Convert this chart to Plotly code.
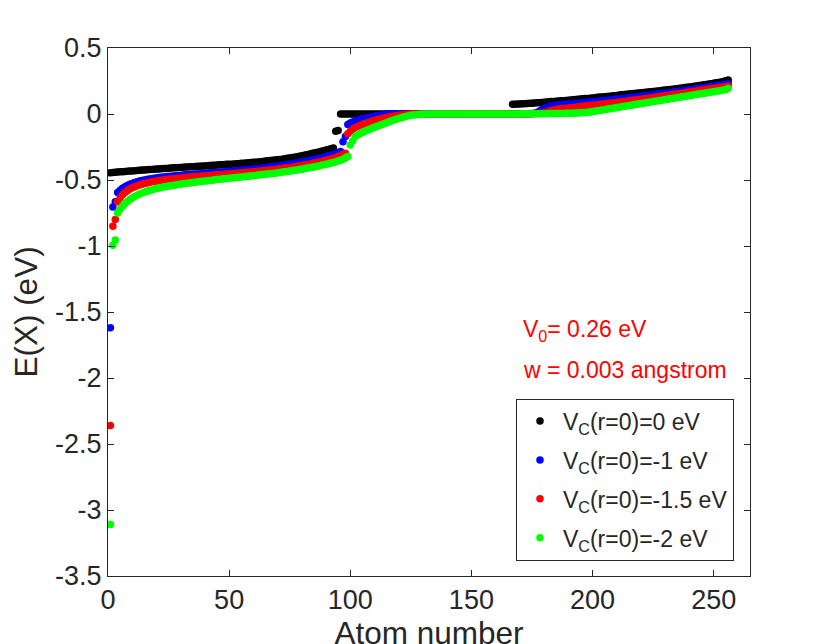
import plotly.graph_objects as go

# atom index on the x axis
atoms = list(range(1, 257))

# V_C(r=0) = 0 eV
black_low = [
    -0.445, -0.443, -0.441, -0.440, -0.438, -0.437, -0.435, -0.434, -0.432, -0.431,
    -0.430, -0.428, -0.427, -0.425, -0.424, -0.423, -0.421, -0.420, -0.419, -0.417,
    -0.416, -0.415, -0.413, -0.412, -0.411, -0.410, -0.408, -0.407, -0.406, -0.405,
    -0.404, -0.402, -0.401, -0.400, -0.399, -0.398, -0.396, -0.395, -0.394, -0.393,
    -0.392, -0.390, -0.389, -0.388, -0.387, -0.385, -0.384, -0.383, -0.381, -0.380,
    -0.380, -0.379, -0.377, -0.376, -0.374, -0.373, -0.371, -0.370, -0.368, -0.366,
    -0.365, -0.363, -0.361, -0.359, -0.357, -0.355, -0.353, -0.351, -0.349, -0.347,
    -0.344, -0.342, -0.339, -0.336, -0.333, -0.330, -0.327, -0.324, -0.320, -0.316,
    -0.312, -0.308, -0.304, -0.300, -0.296, -0.292, -0.288, -0.283, -0.278, -0.273,
    -0.268, -0.263, -0.258]
black_step = [-0.130, -0.125]
black_flat = [
    0, 0, 0, 0, 0, 0, 0, 0, 0, 0, 0, 0, 0, 0, 0, 0, 0, 0, 0, 0,
    0, 0, 0, 0, 0, 0, 0, 0, 0, 0, 0, 0, 0, 0, 0, 0, 0, 0, 0, 0,
    0, 0, 0, 0, 0, 0, 0, 0, 0, 0, 0, 0, 0, 0, 0, 0, 0, 0, 0, 0,
    0, 0, 0, 0, 0, 0, 0, 0, 0, 0, 0]
black_high = [
    0.073, 0.074, 0.075, 0.076, 0.077, 0.078, 0.079, 0.081, 0.082, 0.083,
    0.085, 0.086, 0.088, 0.089, 0.091, 0.092, 0.094, 0.095, 0.097, 0.098,
    0.100, 0.101, 0.103, 0.105, 0.106, 0.108, 0.110, 0.111, 0.113, 0.115,
    0.117, 0.118, 0.120, 0.122, 0.124, 0.126, 0.128, 0.129, 0.131, 0.133,
    0.135, 0.137, 0.139, 0.141, 0.143, 0.145, 0.147, 0.149, 0.151, 0.153,
    0.155, 0.157, 0.159, 0.161, 0.163, 0.165, 0.167, 0.169, 0.171, 0.173,
    0.175, 0.177, 0.179, 0.182, 0.184, 0.186, 0.188, 0.190, 0.192, 0.195,
    0.197, 0.200, 0.202, 0.205, 0.207, 0.210, 0.213, 0.215, 0.218, 0.221,
    0.224, 0.227, 0.230, 0.233, 0.236, 0.239, 0.243, 0.247, 0.251, 0.258]

# V_C(r=0) = -1 eV
blue_deep = [-1.620, -0.705, -0.665]
blue_low = [
    -0.595, -0.578, -0.563, -0.551, -0.541, -0.533, -0.526, -0.519, -0.513, -0.508,
    -0.504, -0.500, -0.496, -0.493, -0.490, -0.487, -0.485, -0.482, -0.480, -0.478,
    -0.476, -0.474, -0.472, -0.470, -0.468, -0.466, -0.465, -0.463, -0.461, -0.460,
    -0.458, -0.457, -0.455, -0.454, -0.452, -0.451, -0.449, -0.448, -0.446, -0.445,
    -0.443, -0.442, -0.440, -0.439, -0.437, -0.436, -0.434, -0.433, -0.431, -0.430,
    -0.428, -0.426, -0.425, -0.423, -0.421, -0.419, -0.417, -0.415, -0.413, -0.411,
    -0.409, -0.407, -0.405, -0.402, -0.400, -0.397, -0.395, -0.392, -0.389, -0.386,
    -0.383, -0.380, -0.377, -0.374, -0.371, -0.368, -0.364, -0.361, -0.357, -0.353,
    -0.349, -0.345, -0.341, -0.337, -0.332, -0.327, -0.322, -0.317, -0.311, -0.305,
    -0.299, -0.292, -0.284]
blue_step = [-0.210, -0.170]
blue_rise = [
    -0.080, -0.068, -0.060, -0.053, -0.047, -0.041, -0.036, -0.032,
    -0.028, -0.024, -0.020, -0.017, -0.014, -0.011, -0.008, -0.006]
blue_flat = [
    0, 0, 0, 0, 0, 0, 0, 0, 0, 0, 0, 0, 0, 0, 0, 0, 0, 0, 0, 0,
    0, 0, 0, 0, 0, 0, 0, 0, 0, 0, 0, 0, 0, 0, 0, 0, 0, 0, 0, 0,
    0, 0, 0, 0, 0, 0, 0, 0, 0, 0, 0, 0]
blue_high = [
    0.000, 0.000, 0.001, 0.001, 0.001, 0.002, 0.002, 0.003, 0.004, 0.006,
    0.010, 0.020, 0.032, 0.042, 0.050, 0.056, 0.060, 0.063, 0.066, 0.068,
    0.070, 0.071, 0.073, 0.075, 0.076, 0.078, 0.080, 0.081, 0.083, 0.085,
    0.087, 0.089, 0.091, 0.093, 0.095, 0.097, 0.099, 0.101, 0.103, 0.105,
    0.107, 0.109, 0.111, 0.113, 0.115, 0.117, 0.119, 0.121, 0.123, 0.125,
    0.127, 0.130, 0.132, 0.134, 0.137, 0.139, 0.141, 0.144, 0.146, 0.148,
    0.151, 0.153, 0.156, 0.158, 0.161, 0.163, 0.166, 0.168, 0.171, 0.173,
    0.176, 0.179, 0.181, 0.184, 0.187, 0.190, 0.193, 0.195, 0.198, 0.201,
    0.203, 0.206, 0.209, 0.212, 0.215, 0.218, 0.221, 0.224, 0.228, 0.233]

# V_C(r=0) = -1.5 eV
red_deep = [-2.360, -0.850, -0.800]
red_low = [
    -0.665, -0.635, -0.612, -0.595, -0.581, -0.569, -0.559, -0.551, -0.544, -0.538,
    -0.532, -0.527, -0.522, -0.518, -0.514, -0.511, -0.508, -0.505, -0.502, -0.499,
    -0.497, -0.495, -0.493, -0.491, -0.489, -0.487, -0.485, -0.483, -0.481, -0.480,
    -0.478, -0.476, -0.475, -0.473, -0.472, -0.470, -0.469, -0.467, -0.466, -0.464,
    -0.463, -0.461, -0.460, -0.458, -0.457, -0.455, -0.454, -0.452, -0.451, -0.449,
    -0.448, -0.446, -0.444, -0.443, -0.441, -0.439, -0.437, -0.436, -0.434, -0.432,
    -0.430, -0.428, -0.426, -0.424, -0.422, -0.420, -0.417, -0.415, -0.413, -0.410,
    -0.407, -0.405, -0.402, -0.399, -0.396, -0.393, -0.390, -0.387, -0.383, -0.380,
    -0.376, -0.372, -0.368, -0.364, -0.360, -0.355, -0.351, -0.346, -0.341, -0.335,
    -0.329, -0.322, -0.315, -0.307, -0.297]
red_rise = [
    -0.150, -0.130, -0.115, -0.103, -0.094, -0.086, -0.079, -0.072, -0.066, -0.060,
    -0.054, -0.049, -0.044, -0.039, -0.034, -0.030, -0.026, -0.022, -0.019, -0.016,
    -0.013, -0.010, -0.008, -0.006, -0.004]
red_flat = [
    0, 0, 0, 0, 0, 0, 0, 0, 0, 0, 0, 0, 0, 0, 0, 0, 0, 0, 0, 0,
    0, 0, 0, 0, 0, 0, 0, 0, 0, 0, 0, 0, 0, 0, 0, 0, 0, 0, 0, 0,
    0, 0, 0]
red_high = [
    0.000, 0.000, 0.000, 0.001, 0.001, 0.001, 0.001, 0.002, 0.002, 0.003,
    0.004, 0.005, 0.007, 0.010, 0.015, 0.021, 0.027, 0.031, 0.034, 0.037,
    0.040, 0.042, 0.044, 0.046, 0.048, 0.050, 0.052, 0.054, 0.056, 0.058,
    0.060, 0.062, 0.064, 0.066, 0.068, 0.070, 0.072, 0.075, 0.077, 0.079,
    0.081, 0.083, 0.086, 0.088, 0.090, 0.093, 0.095, 0.097, 0.100, 0.102,
    0.105, 0.107, 0.110, 0.112, 0.115, 0.117, 0.120, 0.122, 0.125, 0.128,
    0.130, 0.133, 0.136, 0.138, 0.141, 0.144, 0.147, 0.150, 0.153, 0.156,
    0.158, 0.161, 0.164, 0.167, 0.170, 0.172, 0.175, 0.178, 0.181, 0.184,
    0.187, 0.189, 0.192, 0.195, 0.197, 0.200, 0.202, 0.205, 0.208, 0.213]

# V_C(r=0) = -2 eV
green_deep = [-3.110, -0.995, -0.955]
green_low = [
    -0.750, -0.722, -0.698, -0.678, -0.662, -0.648, -0.636, -0.625, -0.615, -0.607,
    -0.599, -0.592, -0.586, -0.580, -0.575, -0.570, -0.565, -0.561, -0.557, -0.553,
    -0.550, -0.546, -0.543, -0.540, -0.537, -0.534, -0.531, -0.529, -0.526, -0.524,
    -0.521, -0.519, -0.517, -0.514, -0.512, -0.510, -0.508, -0.506, -0.503, -0.501,
    -0.499, -0.497, -0.495, -0.493, -0.491, -0.489, -0.487, -0.485, -0.483, -0.481,
    -0.479, -0.477, -0.475, -0.473, -0.471, -0.469, -0.467, -0.465, -0.463, -0.461,
    -0.459, -0.457, -0.455, -0.452, -0.450, -0.448, -0.445, -0.443, -0.440, -0.438,
    -0.435, -0.432, -0.429, -0.427, -0.424, -0.421, -0.418, -0.414, -0.411, -0.408,
    -0.404, -0.401, -0.397, -0.393, -0.389, -0.385, -0.381, -0.376, -0.372, -0.367,
    -0.362, -0.356, -0.350, -0.343, -0.334, -0.322]
green_rise = [
    -0.235, -0.205, -0.170, -0.160, -0.150, -0.140, -0.131, -0.123, -0.115, -0.108,
    -0.101, -0.094, -0.087, -0.080, -0.073, -0.066, -0.059, -0.052, -0.046, -0.040,
    -0.034, -0.028, -0.023, -0.018, -0.014, -0.010, -0.007, -0.005, -0.003, -0.002,
    -0.001]
green_flat = [
    0, 0, 0, 0, 0, 0, 0, 0, 0, 0, 0, 0, 0, 0, 0, 0, 0, 0,
    0, 0, 0, 0, 0, 0, 0, 0, 0, 0, 0, 0, 0, 0, 0, 0, 0, 0]
green_high = [
    0.000, 0.000, 0.000, 0.000, 0.001, 0.001, 0.001, 0.001, 0.001, 0.001,
    0.002, 0.002, 0.002, 0.002, 0.002, 0.003, 0.003, 0.003, 0.003, 0.004,
    0.004, 0.004, 0.005, 0.005, 0.006, 0.006, 0.007, 0.008, 0.009, 0.010,
    0.012, 0.014, 0.016, 0.018, 0.021, 0.024, 0.027, 0.030, 0.033, 0.036,
    0.039, 0.042, 0.046, 0.049, 0.052, 0.055, 0.058, 0.061, 0.064, 0.067,
    0.070, 0.073, 0.076, 0.079, 0.082, 0.085, 0.088, 0.091, 0.094, 0.097,
    0.100, 0.103, 0.106, 0.109, 0.112, 0.115, 0.118, 0.121, 0.124, 0.127,
    0.130, 0.133, 0.136, 0.139, 0.142, 0.145, 0.148, 0.151, 0.154, 0.157,
    0.160, 0.163, 0.166, 0.169, 0.172, 0.175, 0.178, 0.181, 0.185, 0.193]

black = black_low + black_step + black_flat + black_high
blue = blue_deep + blue_low + blue_step + blue_rise + blue_flat + blue_high
red = red_deep + red_low + red_rise + red_flat + red_high
green = green_deep + green_low + green_rise + green_flat + green_high

names = ['V<sub>C</sub>(r=0)=0 eV', 'V<sub>C</sub>(r=0)=-1 eV',
         'V<sub>C</sub>(r=0)=-1.5 eV', 'V<sub>C</sub>(r=0)=-2 eV']
colors = ['#000000', '#0000ff', '#ff0000', '#00ff00']

x_ticks = [0, 50, 100, 150, 200, 250]
y_ticks = [0.5, 0, -0.5, -1, -1.5, -2, -2.5, -3, -3.5]
y_labels = ['0.5', '0', '-0.5', '-1', '-1.5', '-2', '-2.5', '-3', '-3.5']

FONT = 'Liberation Sans'
AXC = '#262626'

fig = go.Figure()
for name, vals, color in zip(names, [black, blue, red, green], colors):
    fig.add_trace(go.Scatter(
        x=atoms, y=vals, mode='markers', name=name, legendgroup=name,
        marker=dict(color=color, size=7.5, line=dict(width=0))))

fig.add_annotation(x=0.644, y=0.465, xref='paper', yref='paper',
                   text='V<sub>0</sub>= 0.26 eV', showarrow=False,
                   xanchor='left', yanchor='middle',
                   font=dict(family=FONT, size=23, color='#ff0000'))
fig.add_annotation(x=0.644, y=0.390, xref='paper', yref='paper',
                   text='w = 0.003 angstrom', showarrow=False,
                   xanchor='left', yanchor='middle',
                   font=dict(family=FONT, size=23, color='#ff0000'))

# the page body adds an 8 px offset, so the margins are trimmed on top/left
fig.update_layout(
    width=830, height=644,
    margin=dict(l=100, r=88, t=40, b=74),
    paper_bgcolor='white', plot_bgcolor='white',
    font=dict(family=FONT, color=AXC),
    showlegend=True,
    legend=dict(x=0.6355, y=0.336, xanchor='left', yanchor='top',
                bgcolor='white', bordercolor=AXC, borderwidth=1,
                font=dict(family=FONT, size=23, color=AXC),
                itemwidth=36, tracegroupgap=6),
    xaxis=dict(range=[0, 265], tickvals=x_ticks, ticks='inside', ticklen=6,
               tickcolor=AXC, linecolor=AXC, linewidth=1, mirror='ticks',
               showgrid=False, zeroline=False,
               tickfont=dict(family=FONT, size=27, color=AXC),
               title=dict(text='Atom number', standoff=3,
                          font=dict(family=FONT, size=31.5, color=AXC))),
    yaxis=dict(range=[-3.5, 0.5], tickvals=y_ticks, ticktext=y_labels,
               ticks='inside', ticklen=6,
               tickcolor=AXC, linecolor=AXC, linewidth=1, mirror='ticks',
               showgrid=False, zeroline=False,
               tickfont=dict(family=FONT, size=27, color=AXC),
               title=dict(text='E(X) (eV)', standoff=10,
                          font=dict(family=FONT, size=31.5, color=AXC))),
)

fig.write_html("out.html")
